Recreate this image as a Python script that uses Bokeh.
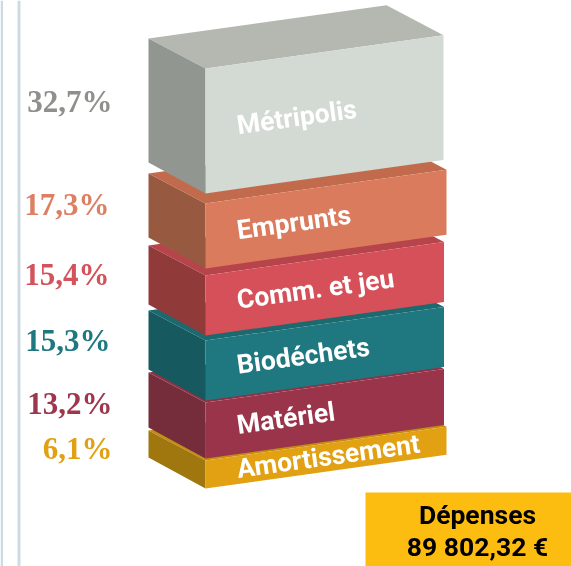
from bokeh.plotting import figure
from bokeh.models import Range1d, ColumnDataSource
from bokeh.core.properties import value
from bokeh.embed import file_html
from bokeh.resources import INLINE
import math

# --- chart data ---------------------------------------------------------
categories = ["Métripolis", "Emprunts", "Comm. et jeu", "Biodéchets", "Matériel", "Amortissement"]
shares = [32.7, 17.3, 15.4, 15.3, 13.2, 6.1]
share_labels = ["32,7%", "17,3%", "15,4%", "15,3%", "13,2%", "6,1%"]
total_title = "Dépenses"
total_label = "89 802,32 €"

# --- styles -------------------------------------------------------------
front_colors = ["#D3D9D3", "#DA7B5D", "#D55058", "#1F787F", "#9A344A", "#E2A013"]
side_colors = ["#929690", "#975A41", "#903B39", "#16595F", "#762D3B", "#A0770F"]
top_colors = ["#B5B8B1", "#C26B4C", "#B8444B", "#1A6A70", "#8C3247", "#C58D10"]
value_colors = ["#8E908C", "#DD7F63", "#D4525A", "#1F787F", "#9C374D", "#E2A013"]

# --- layout of the stack (pixels) --------------------------------------
W, H = 571, 566
PX_PER_PERCENT = 3.82
STACK_BASE = 488
LEFT, FRONT, SLOPE = 148, 205, 0.14
DEPTH_Y = 30
right_edges = [443, 446, 443.5, 443.5, 443.5, 446]
spacing_extra = [0, 8.9, 8.2, 6.6, 7.6, 6.7]   # what each storey adds to its share
overlap = [0, 10, 7, 5, 2, 2]                   # how far a block's top stays under the next one's bottom
value_right = [112, 109, 109, 110, 112, 112]
value_shift = [-1, -3, -3, -2, 1, 2]

p = figure(width=W, height=H, x_range=Range1d(0, W), y_range=Range1d(H, 0),
           output_backend="svg", toolbar_location=None, min_border=0,
           background_fill_color="white", border_fill_color="white", outline_line_color=None)
p.styles = {"position": "fixed", "left": "0px", "top": "0px"}
p.axis.visible = False
p.grid.visible = False

# rules on the left
p.quad(left=[0, 17], right=[2.5, 20], top=[0, 0], bottom=[H, H], fill_color="#CFDBE3", line_color=None)

# blocks, drawn from the bottom up
bottom = STACK_BASE
rows = []
for i in reversed(range(len(shares))):
    next_bottom = bottom - (shares[i] * PX_PER_PERCENT + spacing_extra[i])
    rows.append((i, next_bottom + overlap[i], bottom))
    bottom = next_bottom

for i, top, bot in rows:
    right = right_edges[i]
    rise = (right - FRONT) * SLOPE
    dx = FRONT - LEFT
    src_top = dict(x=[FRONT, right, right - dx, LEFT], y=[top, top - rise, top - rise - DEPTH_Y, top - DEPTH_Y])
    src_side = dict(x=[LEFT, FRONT, FRONT, LEFT], y=[top - DEPTH_Y, top, bot, bot - DEPTH_Y - 1])
    src_front = dict(x=[FRONT, right, right, FRONT], y=[top, top - rise, bot - rise, bot])
    p.patch("x", "y", source=ColumnDataSource(src_top), fill_color=top_colors[i], line_color=None)
    p.patch("x", "y", source=ColumnDataSource(src_side), fill_color=side_colors[i], line_color=None)
    p.patch("x", "y", source=ColumnDataSource(src_front), fill_color=front_colors[i], line_color=None)

# labels
angle = math.atan(SLOPE)
for i, top, bot in rows:
    mid = (top + bot) / 2
    p.text([236.5], [mid - 6], text=[categories[i]], text_color="white", text_align="left",
           text_baseline="middle", angle=angle, text_font=value("Roboto"),
           text_font_style="bold", text_font_size="26.5px")
    p.text([value_right[i]], [mid - 28 + value_shift[i]], text=[share_labels[i]], text_color=value_colors[i],
           text_align="right", text_baseline="middle", text_font=value("Liberation Serif"),
           text_font_style="bold", text_font_size="31px")

# total box
p.quad(left=[365], right=[W], top=[492], bottom=[H], fill_color="#FDBD10", line_color=None)
p.text([477], [514], text=[total_title], text_color="black", text_align="center", text_baseline="middle",
       text_font=value("Roboto"), text_font_style="bold", text_font_size="26.5px")
p.text([477], [546], text=[total_label], text_color="black", text_align="center", text_baseline="middle",
       text_font=value("Roboto"), text_font_style="bold", text_font_size="26.5px")

open("out.html", "w").write(file_html(p, INLINE))
